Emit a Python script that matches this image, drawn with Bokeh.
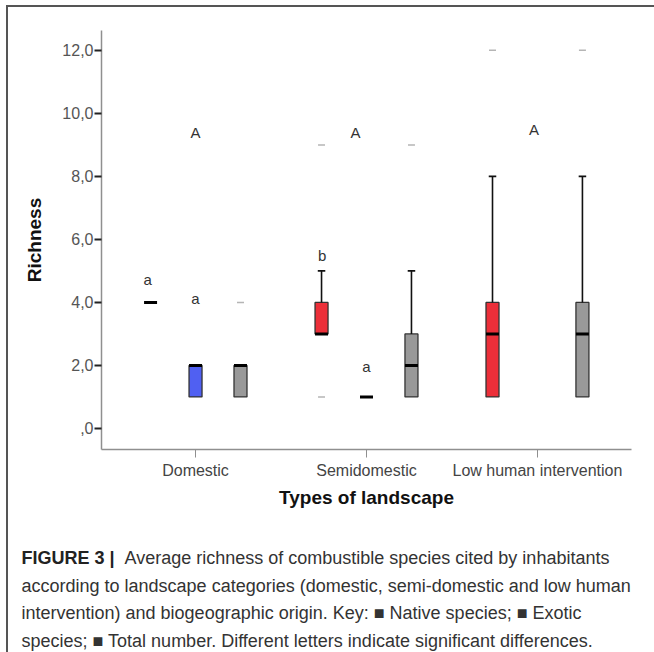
from bokeh.plotting import figure
from bokeh.layouts import column
from bokeh.models import Range1d, FixedTicker, ColumnDataSource
from bokeh.core.properties import value
from bokeh.embed import file_html
from bokeh.resources import INLINE

# ---------------- data ----------------
categories = ["Domestic", "Semidomestic", "Low human intervention"]
category_pos = [1, 2, 3]
series_names = ["Native", "Exotic", "Total"]
series_colors = ["#EC2F39", "#5060F2", "#999999"]

# box statistics per category (None = series absent)
native_q1 = [4, 3, 1]
native_med = [4, 3, 3]
native_q3 = [4, 4, 4]
native_lo = [4, 3, 1]
native_hi = [4, 5, 8]
native_out = [[], [9, 1], [12]]

exotic_q1 = [1, 1, None]
exotic_med = [2, 1, None]
exotic_q3 = [2, 1, None]
exotic_lo = [1, 1, None]
exotic_hi = [2, 1, None]
exotic_out = [[], [], []]

total_q1 = [1, 1, 1]
total_med = [2, 2, 3]
total_q3 = [2, 3, 4]
total_lo = [1, 1, 1]
total_hi = [2, 5, 8]
total_out = [[4], [9], [12]]

letters = ["a", "a", "A", "b", "a", "A", "A"]
letter_x = [0.72, 1.0, 1.0, 1.74, 2.0, 1.935, 2.98]
letter_y = [4.73, 4.13, 9.40, 5.49, 1.97, 9.40, 9.49]

y_ticks = [0, 2, 4, 6, 8, 10, 12]
y_tick_labels = [",0", "2,0", "4,0", "6,0", "8,0", "10,0", "12,0"]

caption_bold = "FIGURE 3 |"
caption_lines = [
    "Average richness of combustible species cited by inhabitants",
    "according to landscape categories (domestic, semi-domestic and low human",
    "intervention) and biogeographic origin. Key: \u25A0 Native species; \u25A0 Exotic",
    "species; \u25A0 Total number. Different letters indicate significant differences.",
]

# ---------------- build ----------------
FONT = "Liberation Sans"
BORDER = "#555555"
W, H = 654, 652
OFF_X, OFF_Y = 8, 7
CHART_H = 523
CAP_H = H - OFF_Y - CHART_H

series = [
    (native_q1, native_med, native_q3, native_lo, native_hi, native_out),
    (exotic_q1, exotic_med, exotic_q3, exotic_lo, exotic_hi, exotic_out),
    (total_q1, total_med, total_q3, total_lo, total_hi, total_out),
]
offsets = [-0.263, 0.0, 0.263]
half_w = 0.038
cap_w = 0.022

box = dict(x=[], bottom=[], top=[], color=[])
med = dict(x0=[], x1=[], y=[])
wh = dict(x=[], y0=[], y1=[])
caps = dict(x0=[], x1=[], y=[])
outl = dict(x=[], y=[])

for si, (q1s, meds, q3s, los, his, outs) in enumerate(series):
    for ci, cx in enumerate(category_pos):
        if q1s[ci] is None:
            continue
        x = cx + offsets[si]
        if q3s[ci] > q1s[ci]:
            box["x"].append(x)
            box["bottom"].append(q1s[ci])
            box["top"].append(q3s[ci])
            box["color"].append(series_colors[si])
        med["x0"].append(x - half_w)
        med["x1"].append(x + half_w)
        med["y"].append(meds[ci])
        if his[ci] > q3s[ci]:
            wh["x"].append(x); wh["y0"].append(q3s[ci]); wh["y1"].append(his[ci])
            caps["x0"].append(x - cap_w); caps["x1"].append(x + cap_w); caps["y"].append(his[ci])
        if los[ci] < q1s[ci]:
            wh["x"].append(x); wh["y0"].append(los[ci]); wh["y1"].append(q1s[ci])
            caps["x0"].append(x - cap_w); caps["x1"].append(x + cap_w); caps["y"].append(los[ci])
        for o in outs[ci]:
            outl["x"].append(x)
            outl["y"].append(o)

p = figure(width=W - OFF_X, height=CHART_H, x_range=Range1d(0.45, 3.55), y_range=Range1d(-0.667, 12.63),
           toolbar_location=None, output_backend="svg", title=None,
           min_border_left=101 - OFF_X, min_border_right=W - 631, min_border_top=30 - OFF_Y,
           min_border_bottom=OFF_Y + CHART_H - 449)
p.outline_line_color = None
p.grid.visible = False
p.frame_align = False

p.vbar(x="x", bottom="bottom", top="top", width=2 * half_w, fill_color="color",
       line_color="#333333", line_width=1.3, source=ColumnDataSource(box))
p.segment(x0="x", y0="y0", x1="x", y1="y1", line_color="#111111", line_width=1.6,
          source=ColumnDataSource(wh))
p.segment(x0="x0", y0="y", x1="x1", y1="y", line_color="#111111", line_width=1.8,
          source=ColumnDataSource(caps))
p.segment(x0="x0", y0="y", x1="x1", y1="y", line_color="#000000", line_width=3,
          source=ColumnDataSource(med))
p.scatter(x="x", y="y", marker="dash", size=7, line_color="#b5b5b5", line_width=1.5,
          source=ColumnDataSource(outl))
p.text(x=letter_x, y=letter_y, text=letters, text_font=value(FONT), text_font_size="15px",
       text_color="#333333", text_align="center", text_baseline="middle")

# axes
ya = p.yaxis[0]
ya.ticker = FixedTicker(ticks=y_ticks)
ya.major_label_overrides = {t: l for t, l in zip(y_ticks, y_tick_labels)}
ya.minor_tick_line_color = None
ya.major_tick_in = 0
ya.major_tick_out = 7
ya.major_tick_line_color = "#222222"
ya.major_tick_line_width = 2
ya.axis_line_color = "#8f8f8f"
ya.axis_line_width = 1.5
ya.major_label_standoff = 1
ya.major_label_text_font = FONT
ya.major_label_text_font_size = "16px"
ya.major_label_text_color = "#555555"
ya.axis_label = "Richness"
ya.axis_label_text_font = FONT
ya.axis_label_text_font_size = "19px"
ya.axis_label_text_font_style = "bold"
ya.axis_label_text_color = "#111111"
ya.axis_label_standoff = 14

xa = p.xaxis[0]
xa.ticker = FixedTicker(ticks=category_pos)
xa.major_label_overrides = {c: n for c, n in zip(category_pos, categories)}
xa.minor_tick_line_color = None
xa.major_tick_in = 0
xa.major_tick_out = 8
xa.major_tick_line_color = "#8f8f8f"
xa.major_tick_line_width = 1
xa.axis_line_color = "#8f8f8f"
xa.axis_line_width = 1.5
xa.major_label_standoff = 4
xa.major_label_text_font = FONT
xa.major_label_text_font_size = "16px"
xa.major_label_text_color = "#444444"
xa.axis_label = "Types of landscape"
xa.axis_label_text_font = FONT
xa.axis_label_text_font_size = "19px"
xa.axis_label_text_font_style = "bold"
xa.axis_label_text_color = "#111111"
xa.axis_label_standoff = 5

# caption (page pixel coordinates)
cap = figure(width=W - OFF_X, height=CAP_H, x_range=Range1d(OFF_X, W),
             y_range=Range1d(H, OFF_Y + CHART_H), toolbar_location=None, output_backend="svg",
             x_axis_type=None, y_axis_type=None, min_border=0, title=None)
cap.outline_line_color = None
cap.grid.visible = False
cap.frame_align = False
cap.text(x=[21], y=[557], text=[caption_bold], text_font=value(FONT), text_font_size="18px",
         text_font_style="bold", text_color="#222222", text_align="left", text_baseline="middle")
cap.text(x=[124, 21, 21, 21], y=[557, 585, 612, 640], text=caption_lines, text_font=value(FONT),
         text_font_size="18px", text_color="#333333", text_align="left", text_baseline="middle")

# the outer panel frame (top and left edges) is drawn as 2px shadows of the page block
shadow = f"-2px -2px 0 0 {BORDER}, 0 -2px 0 0 {BORDER}, -2px 0 0 0 {BORDER}"
layout = column(p, cap, styles={"margin-left": f"{OFF_X}px", "margin-top": f"{OFF_Y}px",
                                "box-shadow": shadow})

open("out.html", "w").write(file_html(layout, INLINE))
